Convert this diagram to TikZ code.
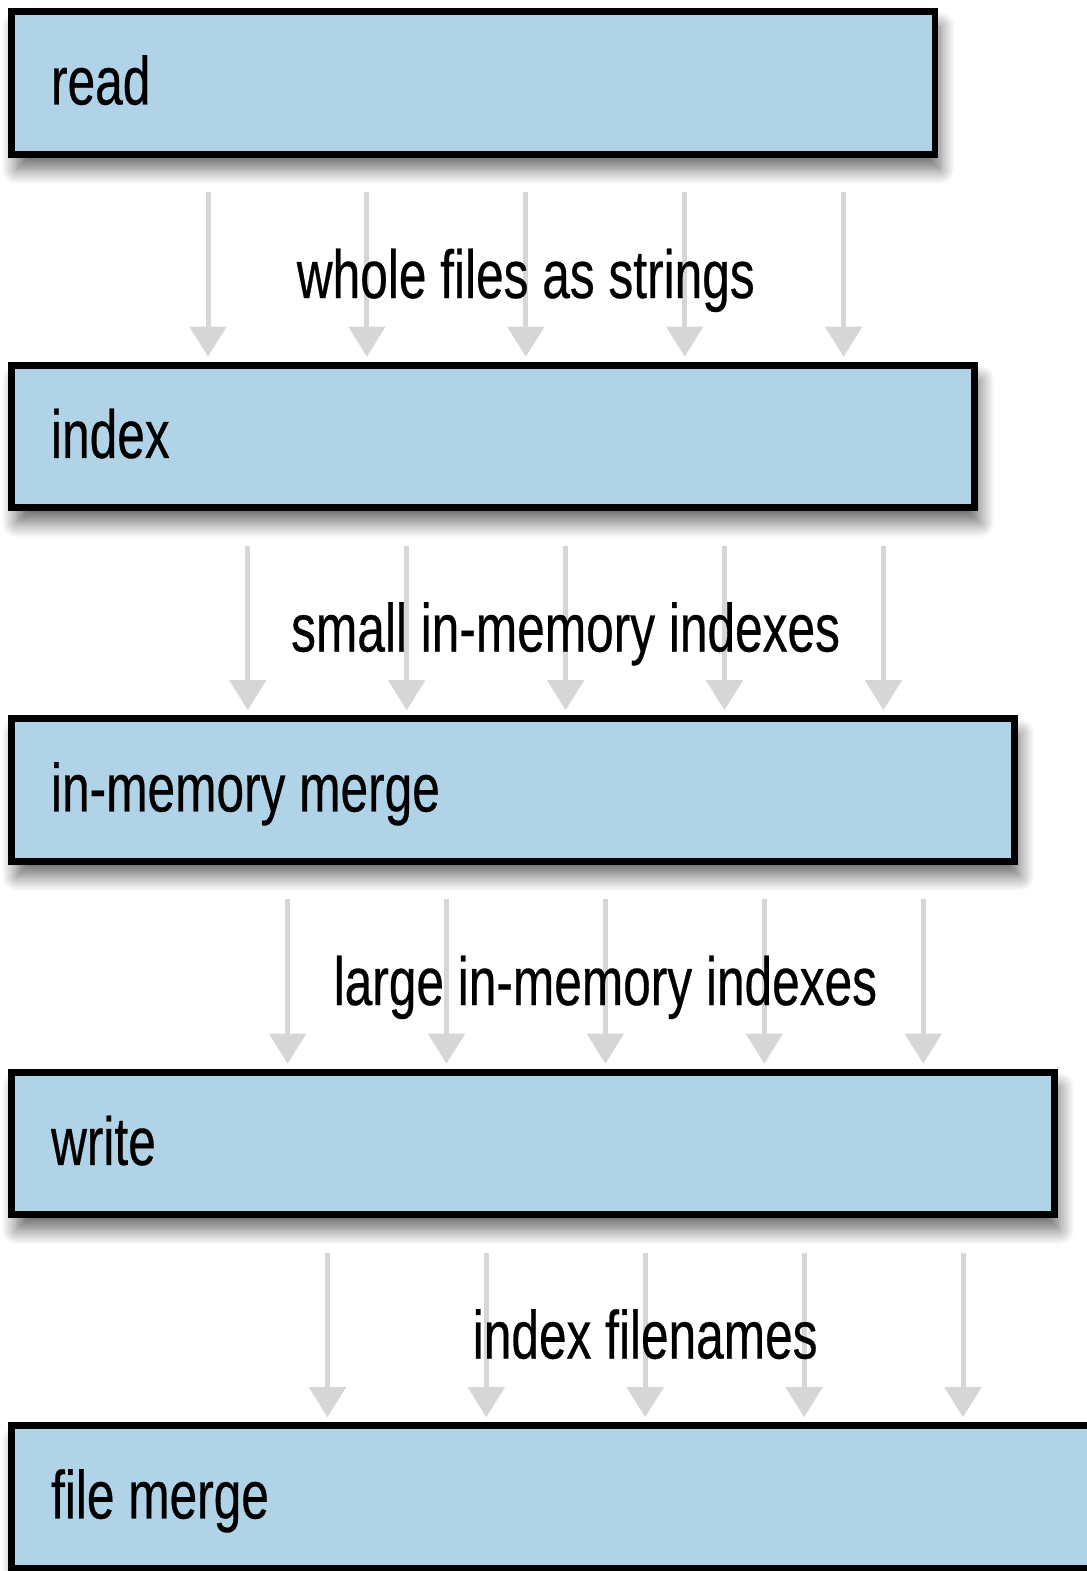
\documentclass[tikz,border=0pt]{standalone}
\usepackage{fontspec}
\setmainfont[FakeStretch=0.73, FakeBold=0.4]{Liberation Sans}
\usetikzlibrary{arrows.meta, positioning, shadows.blur}
\definecolor{stagefill}{RGB}{176,211,232}
\definecolor{flowgray}{RGB}{214,214,214}
\tikzset{
  stage/.style={rectangle, draw=black, line width=3.8pt, fill=stagefill,
    outer sep=0pt, inner sep=0pt, anchor=north west, minimum height=2.85cm,
    blur shadow={shadow xshift=0.1cm, shadow yshift=-0.3cm,
      shadow blur radius=0.3cm, shadow blur steps=12, shadow opacity=60}},
  stagename/.style={anchor=base west, inner sep=0pt,
    font=\fontsize{38.7}{40}\selectfont},
  flowlabel/.style={anchor=base, inner sep=0pt,
    font=\fontsize{38.7}{40}\selectfont},
  flow/.style={draw=flowgray, line width=0.1cm, shorten >=0.17cm,
    -{Triangle[width=0.72cm, length=0.6cm]}}
}
\begin{document}
\begin{tikzpicture}[x=0.02cm, y=-0.02cm]
  \useasboundingbox (0,0) rectangle (1087,1571);
  % stages
  \foreach \name/\txt [count=\i from 0] in
    {read/read, index/index, merge/in-memory merge, write/write, filemerge/file merge}{
    \node[stage, minimum width={(923.3+39.8*\i)*0.02cm}] (\name) at (11.7,{11.7+353.5*\i}) {};
    \node[stagename] (\name-text) at ([shift={(39,21.5)}]\name.west) {\txt};
  }
  % flows between stages
  \foreach \from/\to/\txt [count=\i from 0] in
    {read/index/whole files as strings,
     index/merge/small in-memory indexes,
     merge/write/large in-memory indexes,
     write/filemerge/index filenames}{
    \pgfmathsetmacro\xa{208+39.8*\i}
    \foreach \k in {0,...,4}{
      \coordinate (\from-out-\k) at ({\xa+158.9*\k},{192+353.5*\i});
      \draw[flow] (\from-out-\k) -- (\from-out-\k |- \to.north);
    }
    \node[flowlabel] (\from-label) at ({\xa+158.9*2},{298+353.5*\i}) {\txt};
  }
\end{tikzpicture}
\end{document}
